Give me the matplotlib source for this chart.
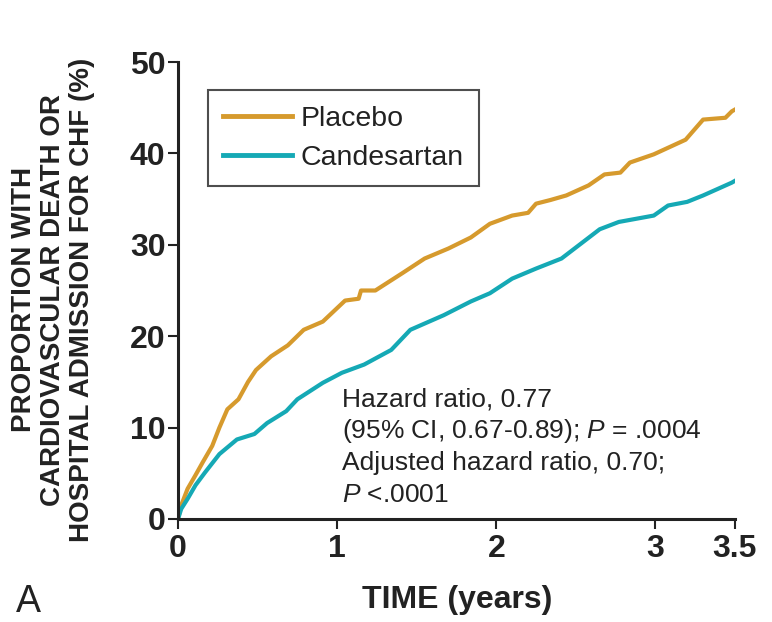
"""
Kaplan-Meier style cumulative event curves: placebo vs candesartan
"""

import matplotlib
import matplotlib.pyplot as plt

matplotlib.use("agg")

# data (years, % with event)
placebo_t = [0.0, 0.02, 0.06, 0.11, 0.155, 0.215, 0.26, 0.31, 0.38, 0.44,
             0.49, 0.585, 0.69, 0.79, 0.91, 1.05, 1.135, 1.15, 1.24, 1.41,
             1.55, 1.70, 1.84, 1.96, 2.10, 2.20, 2.25, 2.34, 2.44, 2.58,
             2.68, 2.78, 2.84, 2.99, 3.19, 3.30, 3.44, 3.48, 3.50]
placebo_y = [0.0, 1.5, 3.3, 4.8, 6.2, 8.0, 10.0, 12.0, 13.1, 15.0,
             16.3, 17.8, 19.0, 20.7, 21.6, 23.9, 24.1, 25.0, 25.0, 26.9,
             28.5, 29.6, 30.8, 32.3, 33.2, 33.5, 34.5, 34.9, 35.4, 36.5,
             37.7, 37.9, 39.0, 39.9, 41.5, 43.7, 43.9, 44.6, 44.8]

cand_t = [0.0, 0.02, 0.06, 0.11, 0.17, 0.26, 0.37, 0.48, 0.56, 0.68,
          0.75, 0.91, 1.03, 1.17, 1.34, 1.46, 1.67, 1.84, 1.96, 2.10,
          2.25, 2.41, 2.53, 2.65, 2.77, 2.99, 3.08, 3.20, 3.30, 3.48, 3.50]
cand_y = [0.0, 1.1, 2.2, 3.7, 5.1, 7.1, 8.7, 9.3, 10.5, 11.8,
          13.1, 14.9, 16.0, 16.9, 18.5, 20.7, 22.3, 23.8, 24.7, 26.3,
          27.4, 28.5, 30.1, 31.7, 32.5, 33.2, 34.3, 34.7, 35.4, 36.8, 37.0]

xticks = [0, 1, 2, 3, 3.5]
xticklabels = ["0", "1", "2", "3", "3.5"]
yticks = [0, 10, 20, 30, 40, 50]

ORANGE = "#D69A2D"
TEAL = "#15A9B5"
INK = "#222222"
FONT = ["Liberation Sans", "DejaVu Sans"]


def main():
    """ main """
    plt.rcParams["font.family"] = FONT
    plt.rcParams["mathtext.fontset"] = "custom"
    plt.rcParams["mathtext.it"] = "Liberation Sans:italic"
    plt.rcParams["mathtext.rm"] = "Liberation Sans"

    fig = plt.figure(figsize=(7.72, 6.22), dpi=100)
    ax = fig.add_axes([0.2306, 0.1656, 0.7214, 0.7347])

    ax.plot(placebo_t, placebo_y, color=ORANGE, lw=3.0, label="Placebo",
            solid_joinstyle="round")
    ax.plot(cand_t, cand_y, color=TEAL, lw=3.0, label="Candesartan",
            solid_joinstyle="round")

    ax.set_xlim(0, 3.5)
    ax.set_ylim(0, 50)
    ax.set_xticks(xticks)
    ax.set_xticklabels(xticklabels)
    ax.set_yticks(yticks)
    for side in ("top", "right"):
        ax.spines[side].set_visible(False)
    for side in ("left", "bottom"):
        ax.spines[side].set_linewidth(2.2)
        ax.spines[side].set_color(INK)
    ax.tick_params(direction="out", length=7, width=1.5, color=INK)
    ax.tick_params(axis="y", pad=2)
    ax.tick_params(axis="x", pad=4)
    for lab in ax.get_xticklabels() + ax.get_yticklabels():
        lab.set_fontsize(23)
        lab.set_fontweight("bold")
        lab.set_color(INK)

    leg = ax.legend(loc="upper left", bbox_to_anchor=(0.269, 0.855),
                    bbox_transform=fig.transFigure, fontsize=20.5,
                    frameon=True, fancybox=False, handlelength=2.4,
                    handletextpad=0.3, borderpad=0.55, labelspacing=0.45,
                    borderaxespad=0)
    leg.get_frame().set_edgecolor(INK)
    leg.get_frame().set_linewidth(1.5)
    for line in leg.get_lines():
        line.set_linewidth(3.5)
    for txt in leg.get_texts():
        txt.set_color(INK)

    # annotation
    notes = ["Hazard ratio, 0.77",
             r"(95% CI, 0.67-0.89); $\mathit{P}$ = .0004",
             "Adjusted hazard ratio, 0.70;",
             r"$\mathit{P}$ <.0001"]
    baselines = [407, 438, 470, 502]
    for note, base in zip(notes, baselines):
        fig.text(342 / 772, 1 - base / 622, note, fontsize=19,
                 va="baseline", ha="left", color=INK)

    fig.text(0.069, 0.518,
             "PROPORTION WITH\nCARDIOVASCULAR DEATH OR\n"
             "HOSPITAL ADMISSION FOR CHF (%)",
             rotation=90, ha="center", va="center", fontsize=20,
             fontweight="bold", linespacing=1.15, color=INK)
    fig.text(457 / 772, 1 - 608 / 622, "TIME (years)", ha="center",
             va="baseline", fontsize=23, fontweight="bold", color=INK)
    fig.text(16 / 772, 1 - 612 / 622, "A", ha="left", va="baseline",
             fontsize=27, color=INK)

    fig.savefig("out.png", dpi=100)


if __name__ == "__main__":
    main()
